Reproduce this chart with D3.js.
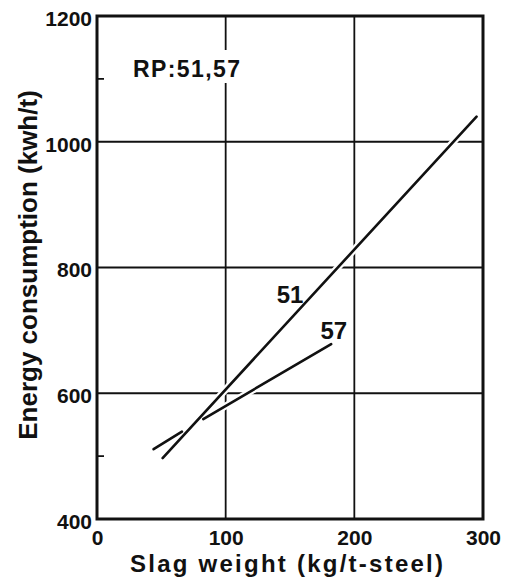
<!DOCTYPE html>
<html>
<head>
<meta charset="utf-8">
<script src="https://cdn.jsdelivr.net/npm/d3@7"></script>
<style>
  body { margin: 0; background: #fff; }
  text { font-family: "Liberation Sans", Arial, sans-serif; font-weight: bold; fill: #111; }
</style>
</head>
<body>
<svg id="chart"></svg>
<script>
// chart size
var width = 513
var height = 581
var margin = { top: 16, right: 30, bottom: 62, left: 97 }

// data
var xTicks = [0, 100, 200, 300]
var yTicks = [400, 600, 800, 1000, 1200]
var yMinorTicks = [500, 1100]

// series 51: straight line
var line51 = [
  { x: 51, y: 497 },
  { x: 295, y: 1040 }
]
// series 57: broken where it crosses 51
var line57 = [
  { x: 44, y: 511 },
  { x: 66, y: 539 },
  null,
  { x: 82.6, y: 559 },
  { x: 182, y: 678 }
]

var seriesLabels = [
  { text: "51", x: 150, y: 744 },
  { text: "57", x: 184, y: 686 }
]

var svg = d3.select("#chart").attr("width", width).attr("height", height)

var x = d3.scaleLinear().domain([0, 300]).range([margin.left, width - margin.right])
var y = d3.scaleLinear().domain([400, 1200]).range([height - margin.bottom, margin.top])

// grid
svg.append("g")
  .selectAll("line.vx")
  .data(xTicks.slice(1, -1))
  .join("line")
  .attr("x1", d => x(d)).attr("x2", d => x(d))
  .attr("y1", y(1200)).attr("y2", y(400))
  .attr("stroke", "#111").attr("stroke-width", 1.8)

svg.append("g")
  .selectAll("line.hy")
  .data(yTicks.slice(1, -1))
  .join("line")
  .attr("x1", x(0)).attr("x2", x(300))
  .attr("y1", d => y(d)).attr("y2", d => y(d))
  .attr("stroke", "#111").attr("stroke-width", 1.8)

// minor ticks on the left side
svg.append("g")
  .selectAll("line")
  .data(yMinorTicks)
  .join("line")
  .attr("x1", x(0)).attr("x2", x(0) + 7)
  .attr("y1", d => y(d)).attr("y2", d => y(d))
  .attr("stroke", "#111").attr("stroke-width", 1.8)

// RP label, with white box that cuts the grid line
var rp = svg.append("g")
var rpBox = rp.append("rect").attr("fill", "#fff")
var rpText = rp.append("text")
  .attr("x", 133).attr("y", 77)
  .attr("font-size", 23)
  .attr("textLength", 107).attr("lengthAdjust", "spacing")
  .text("RP:51,57")
rpBox.attr("x", 131).attr("y", 50).attr("width", 111).attr("height", 33)

// data lines, white halo first so the grid breaks at crossings
var line = d3.line()
  .defined(d => d != null)
  .x(d => x(d.x))
  .y(d => y(d.y))

;[line51, line57].forEach(function(s) {
  svg.append("path").datum(s).attr("d", line)
    .attr("fill", "none").attr("stroke", "#fff").attr("stroke-width", 7)
})
;[line51, line57].forEach(function(s) {
  svg.append("path").datum(s).attr("d", line)
    .attr("fill", "none").attr("stroke", "#111").attr("stroke-width", 2.6)
    .attr("stroke-linecap", "round")
})

svg.append("g")
  .selectAll("text")
  .data(seriesLabels)
  .join("text")
  .attr("x", d => x(d.x)).attr("y", d => y(d.y))
  .attr("text-anchor", "middle")
  .attr("font-size", 24)
  .text(d => d.text)

// frame
svg.append("rect")
  .attr("x", x(0)).attr("y", y(1200))
  .attr("width", x(300) - x(0)).attr("height", y(400) - y(1200))
  .attr("fill", "none").attr("stroke", "#111").attr("stroke-width", 3)

// axes labels
var xAxis = d3.axisBottom(x).tickValues(xTicks).tickSize(0).tickPadding(11).tickFormat(d3.format("d"))
var yAxis = d3.axisLeft(y).tickValues(yTicks).tickSize(0).tickPadding(5).tickFormat(d3.format("d"))

var gx = svg.append("g").attr("transform", "translate(0," + y(400) + ")").call(xAxis)
var gy = svg.append("g").attr("transform", "translate(" + x(0) + ",0)").call(yAxis)
;[gx, gy].forEach(function(g) {
  g.select(".domain").remove()
  g.selectAll("text")
    .attr("font-size", 21)
    .attr("font-family", null)
    .style("font-family", "'Liberation Sans', Arial, sans-serif")
    .style("font-weight", "bold")
    .attr("fill", "#111")
})
gy.selectAll("text").attr("dy", "0.45em")

svg.append("text")
  .attr("x", 130).attr("y", 572)
  .attr("font-size", 24)
  .attr("textLength", 313).attr("lengthAdjust", "spacing")
  .text("Slag weight (kg/t-steel)")

svg.append("text")
  .attr("transform", "translate(37,265) rotate(-90)")
  .attr("text-anchor", "middle")
  .attr("font-size", 26)
  .text("Energy consumption (kwh/t)")
</script>
</body>
</html>
